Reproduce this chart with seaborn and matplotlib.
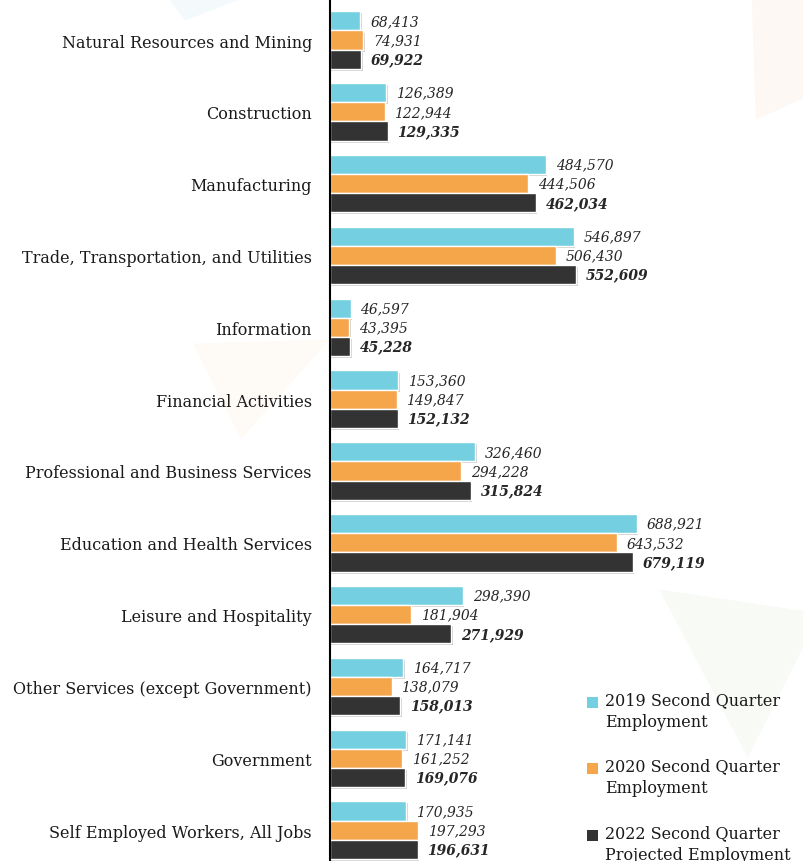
import matplotlib
matplotlib.use("Agg")
import matplotlib.pyplot as plt
import matplotlib.patheffects as pe
from matplotlib.patches import Polygon, Patch, Rectangle
from matplotlib.legend_handler import HandlerPatch
import seaborn as sns
import pandas as pd

industries = [
    "Natural Resources and Mining",
    "Construction",
    "Manufacturing",
    "Trade, Transportation, and Utilities",
    "Information",
    "Financial Activities",
    "Professional and Business Services",
    "Education and Health Services",
    "Leisure and Hospitality",
    "Other Services (except Government)",
    "Government",
    "Self Employed Workers, All Jobs",
]
emp_2019 = [68413, 126389, 484570, 546897, 46597, 153360, 326460, 688921, 298390, 164717, 171141, 170935]
emp_2020 = [74931, 122944, 444506, 506430, 43395, 149847, 294228, 643532, 181904, 138079, 161252, 197293]
emp_2022 = [69922, 129335, 462034, 552609, 45228, 152132, 315824, 679119, 271929, 158013, 169076, 196631]
series_names = [
    "2019 Second Quarter\nEmployment",
    "2020 Second Quarter\nEmployment",
    "2022 Second Quarter\nProjected Employment",
]
colors = ["#74D0E1", "#F5A54A", "#333333"]

df = pd.concat(
    [
        pd.DataFrame({"Industry": industries, "Employment": vals, "Series": name})
        for name, vals in zip(series_names, [emp_2019, emp_2020, emp_2022])
    ],
    ignore_index=True,
)

sns.set_style("white")
plt.rcParams["font.family"] = ["DejaVu Serif"]

fig = plt.figure(figsize=(8.04, 8.62), dpi=100)
fig.patch.set_facecolor("white")

# faint decorative background shapes
for pts, col in [
    ([(0.21, 1.0), (0.30, 1.0), (0.23, 0.975)], "#F4FAFB"),
    ([(0.935, 1.0), (1.0, 1.0), (1.0, 0.885), (0.94, 0.86)], "#FDF8F3"),
    ([(0.24, 0.60), (0.41, 0.605), (0.30, 0.49)], "#FEFAF6"),
    ([(0.82, 0.315), (1.0, 0.29), (1.0, 0.25), (0.93, 0.12)], "#F8FAF5"),
]:
    fig.patches.append(Polygon(pts, closed=True, transform=fig.transFigure,
                               facecolor=col, edgecolor="none", zorder=0))

ax = fig.add_axes([330 / 804, 0, 1 - 330 / 804, 1])
ax.set_facecolor("none")
ax.set_zorder(2)

sns.barplot(
    data=df, y="Industry", x="Employment", hue="Series", orient="h",
    palette=colors, width=0.8, ax=ax, legend=False, saturation=1,
)

shadow = [pe.withSimplePatchShadow(offset=(1, -1.5), shadow_rgbFace="#666666", alpha=0.3)]
for container, vals, weight in zip(ax.containers, [emp_2019, emp_2020, emp_2022],
                                    ["normal", "normal", "bold"]):
    for bar in container:
        bar.set_path_effects(shadow)
    ax.bar_label(container, labels=[f"{v:,}" for v in vals], padding=7,
                 fontsize=10, fontstyle="italic", fontweight=weight, color="#262626")

ax.set_xlim(0, 474 / 0.0004456)
ax.set_ylim(11.43, -0.571)
ax.set_xlabel("")
ax.set_ylabel("")
ax.set_xticks([])
ax.tick_params(axis="y", length=0, pad=13, labelsize=11.5, labelcolor="#1a1a1a")
for s in ["top", "right", "bottom"]:
    ax.spines[s].set_visible(False)
ax.spines["left"].set_color("black")
ax.spines["left"].set_linewidth(1.5)


def top_line_square(legend, orig_handle, xdescent, ydescent, width, height, fontsize):
    # square marker aligned with the first line of a two-line label
    return Rectangle((-xdescent, -ydescent + 6.5), width, height)


handles = [Patch(facecolor=c, edgecolor="none") for c in colors]
leg = fig.legend(handles, series_names, loc="upper left",
                 bbox_to_anchor=(587 / 804, 1 - 692 / 862),
                 frameon=False, fontsize=11.5, handlelength=0.7, handleheight=0.7,
                 handletextpad=0.45, labelspacing=1.75, borderaxespad=0, borderpad=0,
                 handler_map={Patch: HandlerPatch(patch_func=top_line_square)})
for t in leg.get_texts():
    t.set_linespacing(1.35)
    t.set_color("#1a1a1a")

fig.savefig("out.png", dpi=100)
